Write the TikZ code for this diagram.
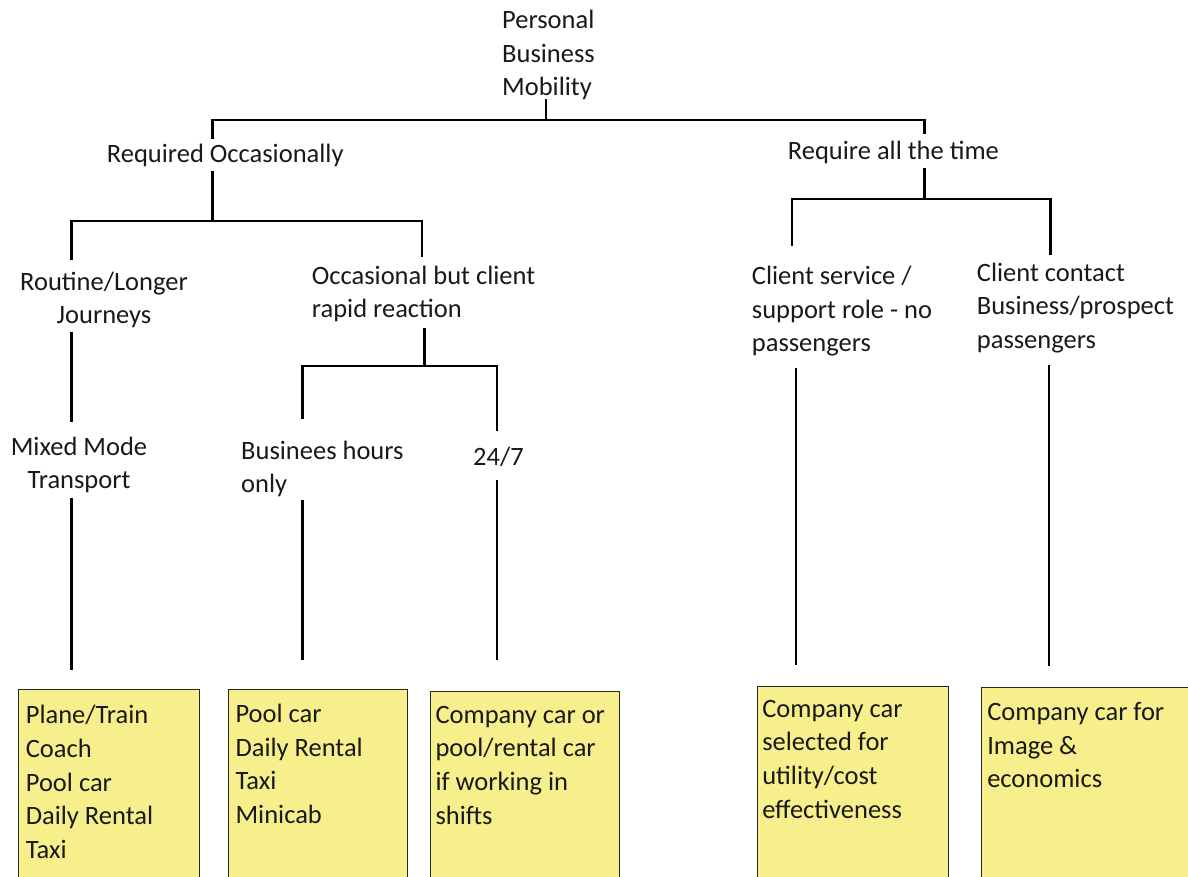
\documentclass[tikz,border=0pt]{standalone}
\usepackage{fontspec}
\setmainfont{Carlito}
\definecolor{boxfill}{RGB}{246,239,140}
\definecolor{boxline}{RGB}{40,40,40}
\definecolor{txt}{RGB}{25,25,25}
\tikzset{
  lbl/.style={inner sep=0pt, anchor=north west, align=left, text=txt,
    font=\fontsize{26.5}{33.6}\selectfont,
    execute at begin node={\rule{0pt}{22pt}}},
  clbl/.style={lbl, anchor=north, align=center},
  conn/.style={line width=2.6pt, black},
  note/.style={draw=boxline, line width=1.1pt, fill=boxfill, anchor=north west,
    inner ysep=0pt, text=txt, font=\fontsize{26.5}{33.6}\selectfont}
}
\begin{document}
\begin{tikzpicture}[x=1pt,y=-1pt]
\useasboundingbox (0,0) rectangle (1188,876);
\clip (0,0) rectangle (1188,876);

% text nodes
\node[lbl] (root) at (502,10) {Personal\\Business\\Mobility};
\node[lbl] (occ) at (106.7,140.3) {Required Occasionally};
\node[lbl] (all) at (787.7,137.3) {Require all the time};
\node[clbl] (rout) at (104,271.7) {Routine/Longer\\Journeys};
\node[lbl] (rapid) at (311.7,265.7) {Occasional but client\\rapid reaction};
\node[clbl] (mixed) at (79,436.7) {Mixed Mode\\Transport};
\node[lbl] (bus) at (241,440.7) {Businees hours\\only};
\node[lbl] (tf) at (473,443) {24/7};
\node[lbl] (csrv) at (751.7,266) {Client service /\\support role - no\\passengers};
\node[lbl] (ccon) at (976.7,262.7) {Client contact\\Business/prospect\\passengers};

% boxes
\node[note, inner xsep=7.6pt] (b1) at (17.7,689)
  {\parbox[t][240pt][t]{166.4pt}{\rule{0pt}{34.3pt}Plane/Train\\Coach\\Pool car\\Daily Rental\\Taxi}};
\node[note, inner xsep=7.3pt] (b2) at (227.7,689)
  {\parbox[t][240pt][t]{165pt}{\rule{0pt}{33pt}Pool car\\Daily Rental\\Taxi\\Minicab}};
\node[note, inner xsep=4.7pt] (b3) at (430.3,690.7)
  {\parbox[t][240pt][t]{179.6pt}{\rule{0pt}{32pt}Company car or\\pool/rental car\\if working in\\shifts}};
\node[note, inner xsep=4.4pt] (b4) at (757.3,686.3)
  {\parbox[t][240pt][t]{181.6pt}{\rule{0pt}{30.4pt}Company car\\selected for\\utility/cost\\effectiveness}};
\node[note, inner xsep=5.7pt] (b5) at (981,686.7)
  {\parbox[t][240pt][t]{240pt}{\rule{0pt}{33.3pt}Company car for\\Image \&\\economics}};

% connector end points
\coordinate (rootS) at (546,99);
\coordinate (j0) at (546,120);
\coordinate (occN) at (212.5,139);
\coordinate (occS) at (212.5,171);
\coordinate (j1) at (212.5,221);
\coordinate (allN) at (924.5,134);
\coordinate (allS) at (924.5,168);
\coordinate (j2) at (924.5,199);
\coordinate (routN) at (71.5,260);
\coordinate (rapidN) at (422,257);
\coordinate (routS) at (71.5,332);
\coordinate (mixedN) at (71.5,422);
\coordinate (mixedS) at (71.5,498);
\coordinate (b1N) at (71.5,670);
\coordinate (rapidS) at (424.5,328);
\coordinate (j3) at (424.5,366);
\coordinate (busN) at (302.5,419);
\coordinate (tfN) at (497,431);
\coordinate (busS) at (302.5,500);
\coordinate (b2N) at (302.5,660);
\coordinate (tfS) at (497,480);
\coordinate (b3N) at (497,660);
\coordinate (csrvN) at (792,246);
\coordinate (cconN) at (1050.5,255);
\coordinate (csrvS) at (796,368);
\coordinate (b4N) at (796,665);
\coordinate (cconS) at (1049,365);
\coordinate (b5N) at (1049,666);

% connectors
\draw[conn] (rootS) -- (j0);
\draw[conn] (occN) |- (j0) -| (allN);
\draw[conn] (occS) -- (j1);
\draw[conn] (routN) |- (j1) -| (rapidN);
\draw[conn] (allS) -- (j2);
\draw[conn] (csrvN) |- (j2) -| (cconN);
\draw[conn] (routS) -- (mixedN);
\draw[conn] (mixedS) -- (b1N);
\draw[conn] (rapidS) -- (j3);
\draw[conn] (busN) |- (j3) -| (tfN);
\draw[conn] (busS) -- (b2N);
\draw[conn] (tfS) -- (b3N);
\draw[conn] (csrvS) -- (b4N);
\draw[conn] (cconS) -- (b5N);
\end{tikzpicture}
\end{document}
